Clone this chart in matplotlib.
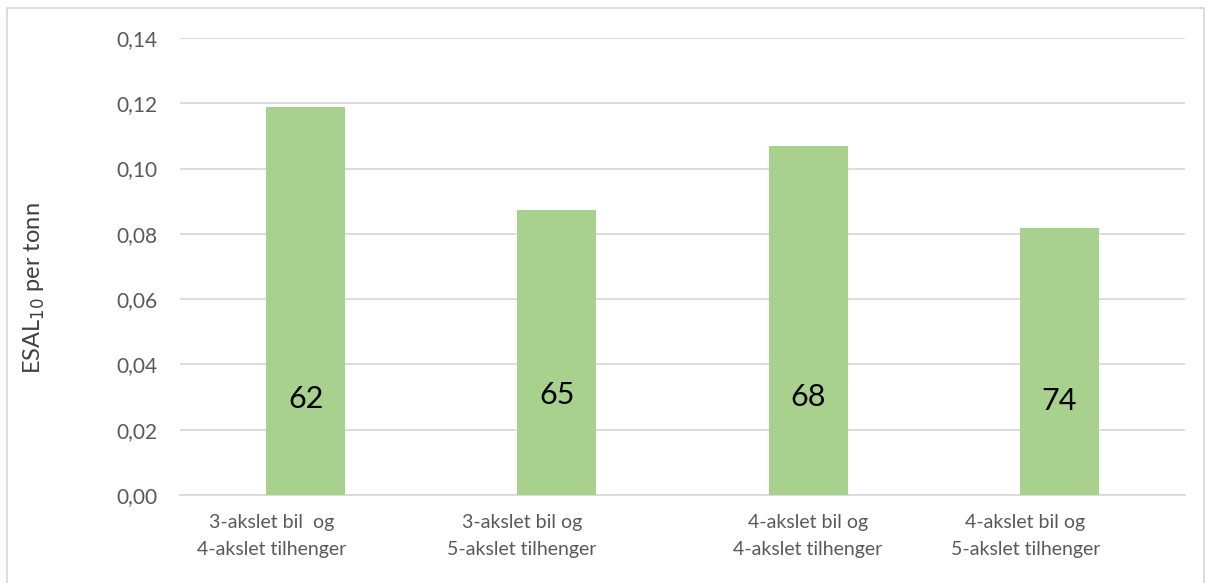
import matplotlib
matplotlib.use("Agg")
import matplotlib.pyplot as plt
from matplotlib.patches import Rectangle

categories = ["3-akslet bil  og\n4-akslet tilhenger",
              "3-akslet bil og\n5-akslet tilhenger",
              "4-akslet bil og\n4-akslet tilhenger",
              "4-akslet bil og\n5-akslet tilhenger"]
values = [0.119, 0.0873, 0.1069, 0.0819]
bar_labels = ["62", "65", "68", "74"]
yticks = [0.00, 0.02, 0.04, 0.06, 0.08, 0.10, 0.12, 0.14]

label_offsets = [-0.134, -0.139, 0.0, -0.135]
label_heights = [0.0295, 0.0305, 0.030, 0.0287]

plt.rcParams['font.family'] = ['Lato', 'DejaVu Sans']

fig = plt.figure(figsize=(12.12, 5.83), dpi=100)
ax = fig.add_axes([0.1485, 0.151, 0.8292, 0.7838])

x = list(range(len(categories)))
ax.bar(x, values, width=0.315, color="#a9d18e", zorder=3)
ax.set_xlim(-0.5, len(categories) - 0.5)
ax.set_ylim(0, 0.14)
ax.set_yticks(yticks)
ax.set_yticklabels([f"{v:.2f}".replace(".", ",") for v in yticks],
                   fontsize=15, color="#595959")
ax.grid(axis="y", color="#d9d9d9", linewidth=1.3, zorder=0)
for s in ["top", "right", "left"]:
    ax.spines[s].set_visible(False)
ax.spines["bottom"].set_color("#d9d9d9")
ax.spines["bottom"].set_linewidth(1.3)
ax.tick_params(axis="y", length=0, pad=16)
ax.tick_params(axis="x", length=0)
ax.set_xticks([])

for i, (lab, off) in enumerate(zip(categories, label_offsets)):
    ax.text(i + off, -0.0058, lab, ha="center", va="top", fontsize=14,
            color="#595959", linespacing=1.75, transform=ax.transData)

for i, (bl, h) in enumerate(zip(bar_labels, label_heights)):
    ax.text(i, h, bl, ha="center", va="center", fontsize=22, color="#000000", zorder=4)

fig.text(0.028, 0.505, "ESAL$_{10}$ per tonn", rotation=90, ha="center", va="center",
         fontsize=17, color="#404040")

fig.patches.append(Rectangle((7 / 1212, -0.05), 1197 / 1212, 1.05 - 8 / 583,
                             transform=fig.transFigure, fill=False,
                             edgecolor="#d9d9d9", linewidth=1.3))

fig.savefig("out.png", dpi=100)
